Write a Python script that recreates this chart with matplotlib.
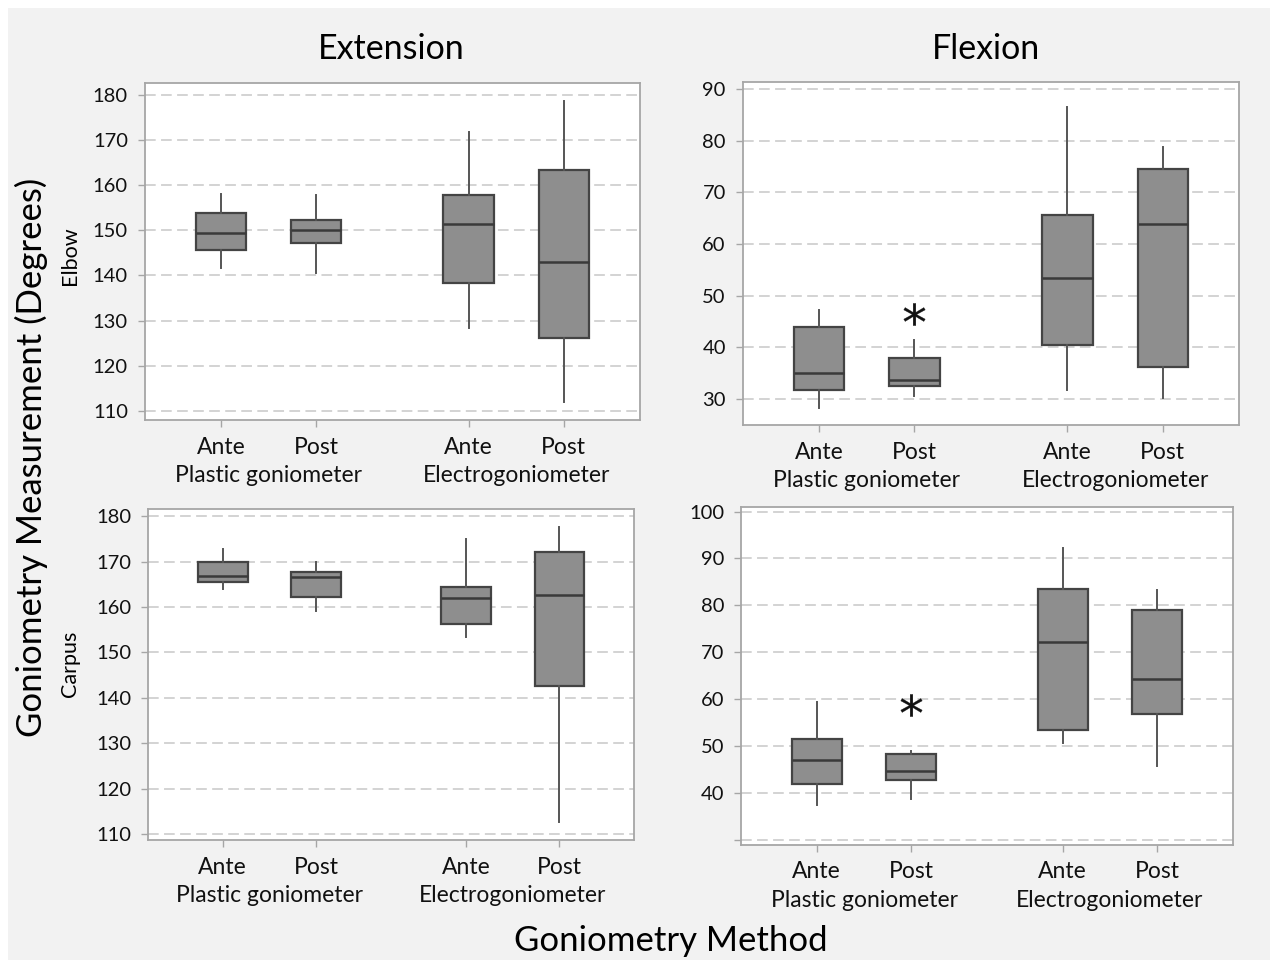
import matplotlib
matplotlib.use("Agg")
import matplotlib.pyplot as plt
from matplotlib.patches import Rectangle

plt.rcParams['font.family'] = ['Lato', 'DejaVu Sans']

# Data: whisker low, Q1, median, Q3, whisker high
tick_labels = ["Ante", "Post", "Ante", "Post"]
group_labels = ["Plastic goniometer", "Electrogoniometer"]
col_titles = ["Extension", "Flexion"]
row_labels = ["Elbow", "Carpus"]

elbow_ext = [
    [141.6, 145.6, 149.3, 153.8, 158.0],
    [140.6, 147.1, 150.1, 152.2, 157.7],
    [128.3, 138.3, 151.3, 157.7, 171.8],
    [111.9, 126.1, 143.0, 163.4, 178.7],
]
elbow_flex = [
    [28.3, 31.7, 35.0, 43.9, 47.3],
    [30.6, 32.6, 33.8, 37.9, 41.4],
    [31.7, 40.4, 53.4, 65.6, 86.5],
    [30.3, 36.3, 63.9, 74.6, 78.7],
]
carpus_ext = [
    [163.9, 165.5, 166.9, 169.9, 172.7],
    [159.2, 162.3, 166.6, 167.7, 170.0],
    [153.3, 156.2, 162.0, 164.5, 174.9],
    [112.6, 142.7, 162.6, 172.2, 177.7],
]
carpus_flex = [
    [37.3, 41.8, 47.0, 51.5, 59.3],
    [38.7, 42.7, 44.7, 48.3, 49.0],
    [50.6, 53.3, 72.1, 83.5, 92.3],
    [45.6, 56.8, 64.2, 79.0, 83.3],
]

# significance stars: (box index, y value)
elbow_flex_star = (1, 46.4)
carpus_flex_star = (1, 58.7)

ext_ticks = [110, 120, 130, 140, 150, 160, 170, 180]
elbow_flex_ticks = [30, 40, 50, 60, 70, 80, 90]
carpus_flex_ticks = [30, 40, 50, 60, 70, 80, 90, 100]

positions = [1, 2, 3.6, 4.6]

W, H = 1278, 966
fig = plt.figure(figsize=(W / 100, H / 100), dpi=100, facecolor='white')
fig.patches.append(Rectangle((8 / W, 6 / H), 1 - 16 / W, 1 - 14 / H,
                             transform=fig.transFigure, facecolor='#f2f2f2',
                             edgecolor='none', zorder=-10))


def px_axes(l, t, r, b):
    return fig.add_axes([l / W, 1 - b / H, (r - l) / W, (b - t) / H])


panels = [
    (px_axes(144.6, 82.7, 640, 420), elbow_ext, ext_ticks, (108.0, 182.65), None, True),
    (px_axes(742.5, 82.3, 1239.3, 425), elbow_flex, elbow_flex_ticks, (25, 91.3), elbow_flex_star, True),
    (px_axes(147.9, 509.3, 634.3, 840), carpus_ext, ext_ticks, (108.7, 181.5), None, True),
    (px_axes(741.1, 507.3, 1232.9, 844.7), carpus_flex, carpus_flex_ticks, (28.9, 100.9), carpus_flex_star, False),
]

for ax, data, yt, ylim, star, label_first in panels:
    stats = [dict(whislo=d[0], q1=d[1], med=d[2], q3=d[3], whishi=d[4], fliers=[])
             for d in data]
    ax.bxp(stats, positions=positions, widths=0.53, patch_artist=True,
           showcaps=False, showfliers=False,
           boxprops=dict(facecolor='#8e8e8e', edgecolor='#444444', linewidth=1.6),
           medianprops=dict(color='#3a3a3a', linewidth=1.8),
           whiskerprops=dict(color='#555555', linewidth=1.4))
    ax.set_xlim(0.2, 5.4)
    ax.set_ylim(*ylim)
    ax.set_yticks(yt)
    labels = [str(v) for v in yt]
    if not label_first:
        labels[0] = ''
    ax.set_yticklabels(labels)
    ax.set_xticks(positions)
    ax.set_xticklabels(tick_labels)
    ax.yaxis.grid(True, linestyle=(0, (7, 3.5)), color='#c8c8c8', linewidth=1.1)
    ax.set_axisbelow(True)
    ax.set_facecolor('white')
    for s in ax.spines.values():
        s.set_color('#a6a6a6')
        s.set_linewidth(1.3)
    ax.tick_params(axis='both', colors='#a6a6a6', labelcolor='#111111',
                   labelsize=14.5, length=5, width=1)
    ax.tick_params(axis='x', pad=7, labelsize=16.5)
    ax.tick_params(axis='y', pad=7)
    for i, g in enumerate(group_labels):
        xm = (positions[2 * i] + positions[2 * i + 1]) / 2
        ax.annotate(g, xy=(xm, 0), xycoords=('data', 'axes fraction'),
                    xytext=(0, -40), textcoords='offset points',
                    ha='center', va='center', fontsize=16.5, color='#111111')
    if star is not None:
        ax.plot(positions[star[0]], star[1], marker='$*$', markersize=16,
                markeredgewidth=0.2, color='#111111', linestyle='none')

# column titles
fig.text(391 / W, 1 - 49 / H, col_titles[0], ha='center', va='center', fontsize=24.5)
fig.text(986 / W, 1 - 49 / H, col_titles[1], ha='center', va='center', fontsize=24.5)

# row labels
fig.text(70 / W, 1 - 256 / H, row_labels[0], rotation=90, ha='center', va='center', fontsize=15.5)
fig.text(70 / W, 1 - 664 / H, row_labels[1], rotation=90, ha='center', va='center', fontsize=15.5)

fig.text(31 / W, 1 - 457 / H, "Goniometry Measurement (Degrees)", rotation=90,
         ha='center', va='center', fontsize=25)
fig.text(671 / W, 1 - 941 / H, "Goniometry Method", ha='center', va='center', fontsize=25)

fig.savefig("out.png", dpi=100, facecolor=fig.get_facecolor())
